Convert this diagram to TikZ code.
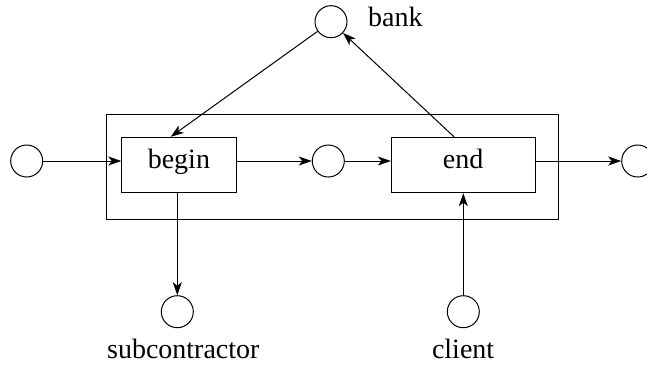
\documentclass[tikz,border=0pt]{standalone}
\usepackage{fontspec}
\setmainfont{Liberation Serif}
\usetikzlibrary{arrows.meta}
\begin{document}
\begin{tikzpicture}[x=1pt,y=-1pt,
 place/.style={circle,draw,minimum size=32pt,inner sep=0pt,line width=1pt},
 task/.style={rectangle,draw,line width=1pt,inner sep=0pt},
 lbl/.style={font=\fontsize{28}{32}\selectfont,inner sep=0pt},
 arr/.style={-{Stealth[length=13pt,width=9pt,inset=3.5pt]},line width=1pt}]
\useasboundingbox (0,0) rectangle (647,364);
\node[draw,line width=0.9pt,inner sep=0pt,minimum width=452.3pt,minimum height=105pt] (outer) at (332.15,166.5) {};
\node[task,minimum width=114.3pt,minimum height=55.4pt] (begin) at (178.9,165) {};
\node[task,minimum width=143.7pt,minimum height=55.4pt] (end) at (463.2,165) {};
\node[lbl,anchor=base] (beginlbl) at (178.9,168.3) {begin};
\node[lbl,anchor=base] (endlbl) at (463.2,168.3) {end};
\node[place] (left) at (26.7,161) {};
\node[place] (mid) at (328.3,161) {};
\node[place] (right) at (637.7,161) {};
\node[place] (bank) at (331,21.7) {};
\node[place] (sub) at (177.3,311.7) {};
\node[place] (client) at (463.3,311.7) {};
\node[lbl,anchor=base west] (banklbl) at (368,26.7) {bank};
\node[lbl,anchor=base] (sublbl) at (183.3,358.3) {subcontractor};
\node[lbl,anchor=base] (clientlbl) at (463.1,358.3) {client};
\draw[arr] (left.east) -- (left.east -| begin.west);
\draw[arr] (mid.west -| begin.east) -- (mid.west);
\draw[arr] (mid.east) -- (mid.east -| end.west);
\draw[arr] (mid.east -| end.east) -- (right.west);
\draw[arr] (bank) -- ([xshift=-8.2pt]begin.north);
\draw[arr] ([xshift=-9.2pt]end.north) -- (bank);
\draw[arr] (sub.north |- begin.south) -- (sub.north);
\draw[arr] (client.north) -- (client.north |- end.south);
\end{tikzpicture}
\end{document}
